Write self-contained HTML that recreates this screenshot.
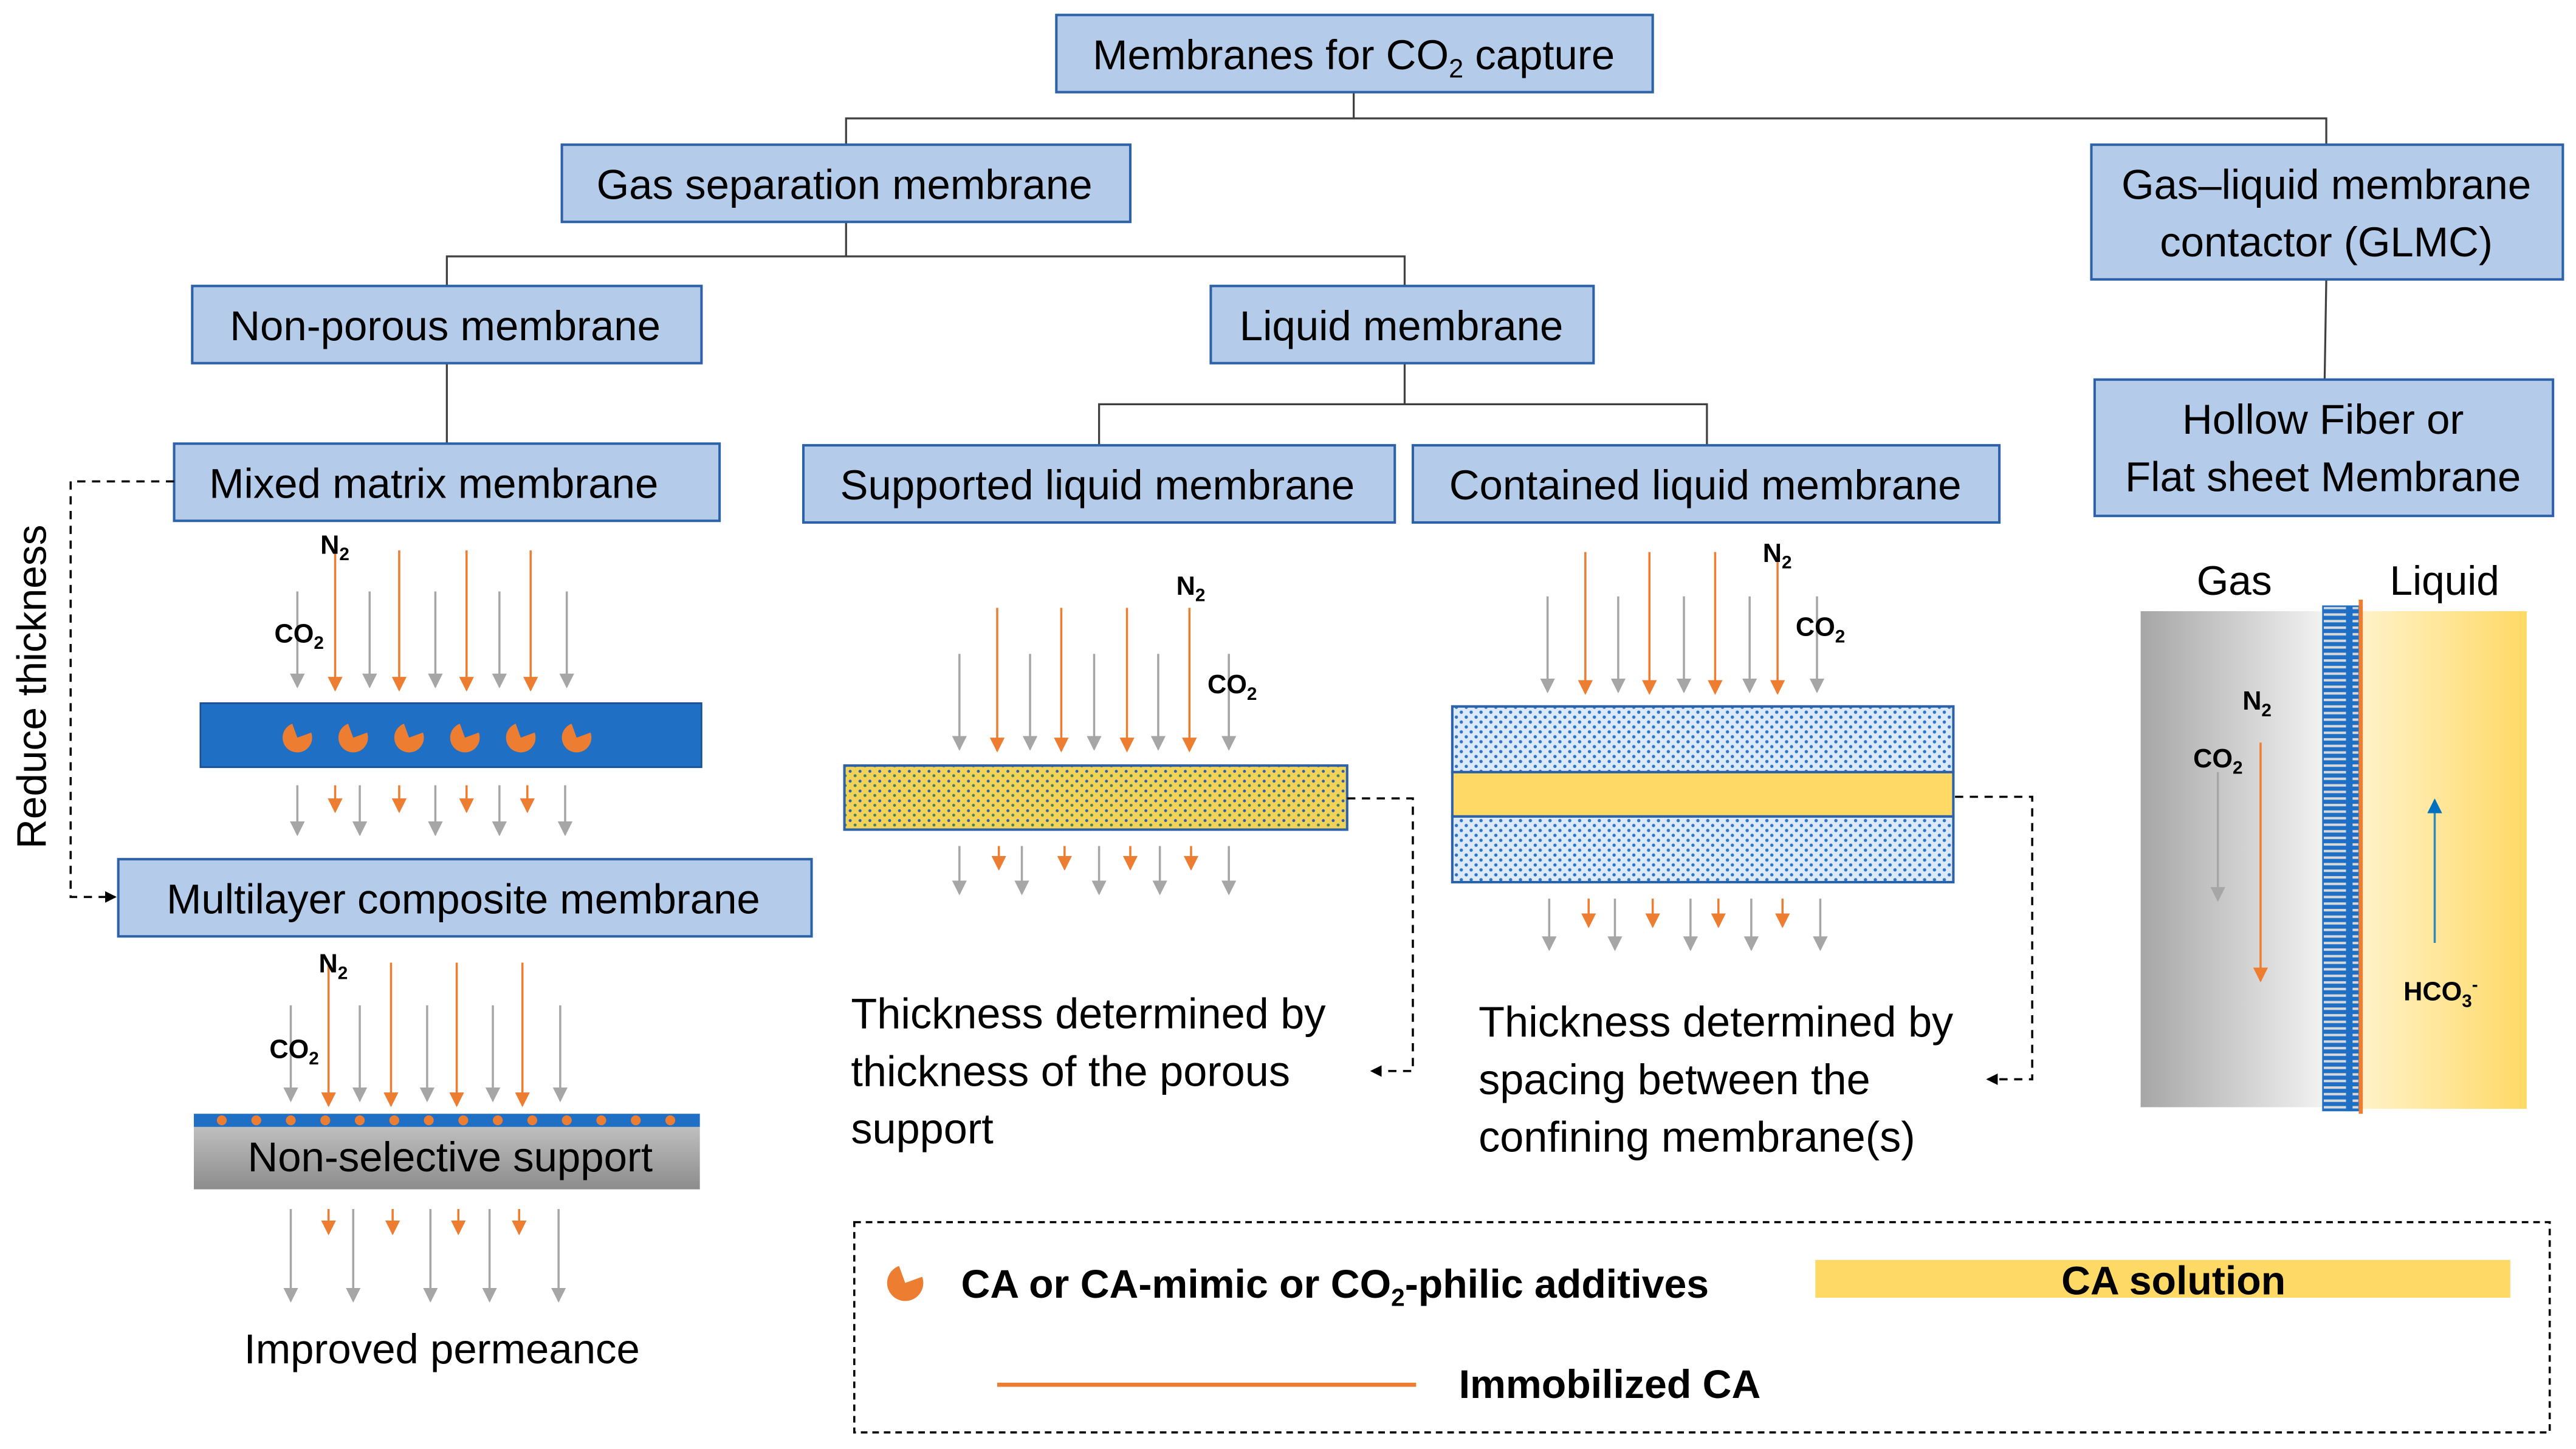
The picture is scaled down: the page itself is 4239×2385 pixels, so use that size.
<!DOCTYPE html>
<html><head><meta charset="utf-8"><style>html,body{margin:0;padding:0;background:#fff}svg{display:block}
.g{stroke:#a6a6a6;stroke-width:1.3;fill:none;marker-end:url(#ag2)}
.o{stroke:#ed7d31;stroke-width:1.3;fill:none;marker-end:url(#ao)}
</style></head>
<body>
<svg width="4239" height="2385" viewBox="0 0 1568 882" xmlns="http://www.w3.org/2000/svg" font-family="'Liberation Sans', sans-serif">
<defs>
<marker id="ao" markerWidth="9" markerHeight="9" refX="8" refY="4.5" orient="auto" markerUnits="userSpaceOnUse"><path d="M0,0 L9,4.5 L0,9 Z" fill="#ed7d31"/></marker>
<marker id="ag2" markerWidth="9" markerHeight="9" refX="8" refY="4.5" orient="auto" markerUnits="userSpaceOnUse"><path d="M0,0 L9,4.5 L0,9 Z" fill="#a6a6a6"/></marker>
<marker id="ab" markerWidth="9" markerHeight="9" refX="8" refY="4.5" orient="auto" markerUnits="userSpaceOnUse"><path d="M0,0 L9,4.5 L0,9 Z" fill="#0070c0"/></marker>
<marker id="ak" markerWidth="7" markerHeight="7" refX="6" refY="3.5" orient="auto" markerUnits="userSpaceOnUse"><path d="M0,0 L7,3.5 L0,7 Z" fill="#000"/></marker>
<pattern id="py" width="6" height="6" patternUnits="userSpaceOnUse"><rect width="6" height="6" fill="#f2d35a"/><circle cx="1.5" cy="1.5" r="0.9" fill="#2e5fa8"/><circle cx="4.5" cy="4.2" r="0.9" fill="#4a7f5a"/></pattern>
<pattern id="pb" width="6" height="6" patternUnits="userSpaceOnUse"><rect width="6" height="6" fill="#dce9f8"/><circle cx="1.5" cy="1.5" r="1" fill="#2e75c8"/><circle cx="4.5" cy="4.5" r="1" fill="#2e75c8"/></pattern>
<pattern id="ps" width="22" height="4" patternUnits="userSpaceOnUse"><rect width="22" height="4" fill="#1f6fc5"/><rect x="2" y="1.3" width="18" height="1.5" fill="#d9d9d9"/></pattern>
<linearGradient id="gg" x1="0" x2="1"><stop offset="0" stop-color="#a6a6a6"/><stop offset="1" stop-color="#f2f2f2"/></linearGradient>
<linearGradient id="gy" x1="0" x2="1"><stop offset="0" stop-color="#fff2c8"/><stop offset="1" stop-color="#ffd966"/></linearGradient>
<linearGradient id="gs" x1="0" y1="0" x2="0" y2="1"><stop offset="0" stop-color="#bfbfbf"/><stop offset="1" stop-color="#8c8c8c"/></linearGradient>
</defs>

<!-- connectors -->
<g stroke="#404040" stroke-width="1.2" fill="none">
<path d="M824,56 V72 M515,88 V72 H1416 V88"/>
<path d="M515,135 V156 M272,174 V156 H855 V174"/>
<path d="M272,221 V270"/>
<path d="M855,221 V246 M669,271 V246 H1039 V271"/>
<path d="M1416,170 L1415,231"/>
</g>

<!-- boxes -->
<g fill="#b4cbea" stroke="#2e62a8" stroke-width="1.5">
<rect x="643" y="9" width="363" height="47"/>
<rect x="342" y="88" width="346" height="47"/>
<rect x="1273" y="88" width="287" height="82"/>
<rect x="117" y="174" width="310" height="47"/>
<rect x="737" y="174" width="233" height="47"/>
<rect x="106" y="270" width="332" height="47"/>
<rect x="489" y="271" width="360" height="47"/>
<rect x="860" y="271" width="357" height="47"/>
<rect x="1275" y="231" width="279" height="83"/>
<rect x="72" y="523" width="422" height="47"/>
</g>
<g font-size="25.5" fill="#000" text-anchor="middle">
<text x="824" y="42">Membranes for CO<tspan font-size="16" dy="5">2</tspan><tspan dy="-5"> capture</tspan></text>
<text x="514" y="121">Gas separation membrane</text>
<text x="1416" y="121">Gas–liquid membrane</text>
<text x="1416" y="156">contactor (GLMC)</text>
<text x="271" y="207">Non-porous membrane</text>
<text x="853" y="207">Liquid membrane</text>
<text x="264" y="303">Mixed matrix membrane</text>
<text x="668" y="304">Supported liquid membrane</text>
<text x="1038" y="304">Contained liquid membrane</text>
<text x="1414" y="264">Hollow Fiber or</text>
<text x="1414" y="299">Flat sheet Membrane</text>
<text x="282" y="556">Multilayer composite membrane</text>
</g>

<!-- reduce thickness -->
<path d="M106,293 H43 V546 H70" fill="none" stroke="#000" stroke-width="1.3" stroke-dasharray="5,4" marker-end="url(#ak)"/>
<text x="0" y="0" font-size="25" text-anchor="middle" transform="translate(28,418) rotate(-90)">Reduce thickness</text>

<!-- MMM -->
<line class="g" x1="181" y1="360" x2="181" y2="418"/><line class="g" x1="225" y1="360" x2="225" y2="418"/><line class="g" x1="265" y1="360" x2="265" y2="418"/><line class="g" x1="304" y1="360" x2="304" y2="418"/><line class="g" x1="345" y1="360" x2="345" y2="418"/>
<line class="g" x1="181" y1="478" x2="181" y2="508"/><line class="g" x1="219" y1="478" x2="219" y2="508"/><line class="g" x1="265" y1="478" x2="265" y2="508"/><line class="g" x1="304" y1="478" x2="304" y2="508"/><line class="g" x1="344" y1="478" x2="344" y2="508"/>
<line class="o" x1="204" y1="335" x2="204" y2="420"/><line class="o" x1="243" y1="335" x2="243" y2="420"/><line class="o" x1="284" y1="335" x2="284" y2="420"/><line class="o" x1="323" y1="335" x2="323" y2="420"/>
<line class="o" x1="204" y1="478" x2="204" y2="494"/><line class="o" x1="243" y1="478" x2="243" y2="494"/><line class="o" x1="284" y1="478" x2="284" y2="494"/><line class="o" x1="321" y1="478" x2="321" y2="494"/>
<rect x="122" y="428" width="305" height="39" fill="#1f6fc5" stroke="#1a4f8f" stroke-width="1"/>
<g fill="#ed7d31">
<path d="M181,449 L181,440 A9,9 0 1 0 190,449 Z" transform="rotate(-20 181 449)"/>
<path d="M215,449 L215,440 A9,9 0 1 0 224,449 Z" transform="rotate(-20 215 449)"/>
<path d="M249,449 L249,440 A9,9 0 1 0 258,449 Z" transform="rotate(-20 249 449)"/>
<path d="M283,449 L283,440 A9,9 0 1 0 292,449 Z" transform="rotate(-20 283 449)"/>
<path d="M317,449 L317,440 A9,9 0 1 0 326,449 Z" transform="rotate(-20 317 449)"/>
<path d="M351,449 L351,440 A9,9 0 1 0 360,449 Z" transform="rotate(-20 351 449)"/>
</g>
<g font-size="16" font-weight="bold">
<text x="195" y="337">N<tspan font-size="11" dy="4">2</tspan></text>
<text x="167" y="391">CO<tspan font-size="11" dy="4">2</tspan></text>
</g>

<!-- Multilayer -->
<line class="g" x1="177" y1="612" x2="177" y2="670"/><line class="g" x1="219" y1="612" x2="219" y2="670"/><line class="g" x1="260" y1="612" x2="260" y2="670"/><line class="g" x1="300" y1="612" x2="300" y2="670"/><line class="g" x1="341" y1="612" x2="341" y2="670"/>
<line class="g" x1="177" y1="736" x2="177" y2="792"/><line class="g" x1="215" y1="736" x2="215" y2="792"/><line class="g" x1="262" y1="736" x2="262" y2="792"/><line class="g" x1="298" y1="736" x2="298" y2="792"/><line class="g" x1="340" y1="736" x2="340" y2="792"/>
<line class="o" x1="200" y1="586" x2="200" y2="673"/><line class="o" x1="238" y1="586" x2="238" y2="673"/><line class="o" x1="278" y1="586" x2="278" y2="673"/><line class="o" x1="318" y1="586" x2="318" y2="673"/>
<line class="o" x1="200" y1="736" x2="200" y2="751"/><line class="o" x1="239" y1="736" x2="239" y2="751"/><line class="o" x1="279" y1="736" x2="279" y2="751"/><line class="o" x1="316" y1="736" x2="316" y2="751"/>
<rect x="118" y="686" width="308" height="38" fill="url(#gs)"/>
<rect x="118" y="678" width="308" height="8" fill="#1f6fc5"/>
<g fill="#ed7d31"><circle cx="135" cy="682" r="3"/><circle cx="156" cy="682" r="3"/><circle cx="177" cy="682" r="3"/><circle cx="198" cy="682" r="3"/><circle cx="219" cy="682" r="3"/><circle cx="240" cy="682" r="3"/><circle cx="261" cy="682" r="3"/><circle cx="282" cy="682" r="3"/><circle cx="303" cy="682" r="3"/><circle cx="324" cy="682" r="3"/><circle cx="345" cy="682" r="3"/><circle cx="366" cy="682" r="3"/><circle cx="387" cy="682" r="3"/><circle cx="408" cy="682" r="3"/></g>
<text x="274" y="713" font-size="25.5" text-anchor="middle">Non-selective support</text>
<g font-size="16" font-weight="bold">
<text x="194" y="592">N<tspan font-size="11" dy="4">2</tspan></text>
<text x="164" y="644">CO<tspan font-size="11" dy="4">2</tspan></text>
</g>
<text x="269" y="830" font-size="25.5" text-anchor="middle">Improved permeance</text>

<!-- Supported -->
<line class="g" x1="584" y1="398" x2="584" y2="456"/><line class="g" x1="627" y1="398" x2="627" y2="456"/><line class="g" x1="666" y1="398" x2="666" y2="456"/><line class="g" x1="705" y1="398" x2="705" y2="456"/><line class="g" x1="748" y1="398" x2="748" y2="456"/>
<line class="g" x1="584" y1="515" x2="584" y2="544"/><line class="g" x1="622" y1="515" x2="622" y2="544"/><line class="g" x1="669" y1="515" x2="669" y2="544"/><line class="g" x1="706" y1="515" x2="706" y2="544"/><line class="g" x1="748" y1="515" x2="748" y2="544"/>
<line class="o" x1="607" y1="370" x2="607" y2="457"/><line class="o" x1="646" y1="370" x2="646" y2="457"/><line class="o" x1="686" y1="370" x2="686" y2="457"/><line class="o" x1="724" y1="370" x2="724" y2="457"/>
<line class="o" x1="608" y1="515" x2="608" y2="529"/><line class="o" x1="648" y1="515" x2="648" y2="529"/><line class="o" x1="688" y1="515" x2="688" y2="529"/><line class="o" x1="725" y1="515" x2="725" y2="529"/>
<rect x="514" y="466" width="306" height="39" fill="url(#py)" stroke="#2e62a8" stroke-width="1.5"/>
<g font-size="16" font-weight="bold">
<text x="716" y="362">N<tspan font-size="11" dy="4">2</tspan></text>
<text x="735" y="422">CO<tspan font-size="11" dy="4">2</tspan></text>
</g>
<path d="M820,486 H860 V652 H835" fill="none" stroke="#000" stroke-width="1.3" stroke-dasharray="5,4" marker-end="url(#ak)"/>
<g font-size="26"><text x="518" y="626">Thickness determined by</text><text x="518" y="661">thickness of the porous</text><text x="518" y="696">support</text></g>

<!-- Contained -->
<line class="g" x1="942" y1="363" x2="942" y2="421"/><line class="g" x1="985" y1="363" x2="985" y2="421"/><line class="g" x1="1025" y1="363" x2="1025" y2="421"/><line class="g" x1="1065" y1="363" x2="1065" y2="421"/><line class="g" x1="1106" y1="363" x2="1106" y2="421"/>
<line class="g" x1="943" y1="547" x2="943" y2="578"/><line class="g" x1="983" y1="547" x2="983" y2="578"/><line class="g" x1="1029" y1="547" x2="1029" y2="578"/><line class="g" x1="1066" y1="547" x2="1066" y2="578"/><line class="g" x1="1108" y1="547" x2="1108" y2="578"/>
<line class="o" x1="965" y1="336" x2="965" y2="422"/><line class="o" x1="1004" y1="336" x2="1004" y2="422"/><line class="o" x1="1044" y1="336" x2="1044" y2="422"/><line class="o" x1="1082" y1="336" x2="1082" y2="422"/>
<line class="o" x1="967" y1="547" x2="967" y2="564"/><line class="o" x1="1006" y1="547" x2="1006" y2="564"/><line class="o" x1="1046" y1="547" x2="1046" y2="564"/><line class="o" x1="1085" y1="547" x2="1085" y2="564"/>
<rect x="884" y="430" width="305" height="40" fill="url(#pb)" stroke="#2e62a8" stroke-width="1.5"/>
<rect x="884" y="470" width="305" height="27" fill="#ffd966" stroke="#2e62a8" stroke-width="1.5"/>
<rect x="884" y="497" width="305" height="40" fill="url(#pb)" stroke="#2e62a8" stroke-width="1.5"/>
<g font-size="16" font-weight="bold">
<text x="1073" y="342">N<tspan font-size="11" dy="4">2</tspan></text>
<text x="1093" y="387">CO<tspan font-size="11" dy="4">2</tspan></text>
</g>
<path d="M1190,485 H1237 V657 H1210" fill="none" stroke="#000" stroke-width="1.3" stroke-dasharray="5,4" marker-end="url(#ak)"/>
<g font-size="26"><text x="900" y="631">Thickness determined by</text><text x="900" y="666">spacing between the</text><text x="900" y="701">confining membrane(s)</text></g>

<!-- GLMC diagram -->
<rect x="1303" y="372" width="111" height="302" fill="url(#gg)"/>
<rect x="1438" y="372" width="100" height="303" fill="url(#gy)"/>
<rect x="1414" y="369" width="22" height="307" fill="url(#ps)" stroke="#1f6fc5" stroke-width="1"/>
<line x1="1437" y1="365" x2="1437" y2="678" stroke="#ed7d31" stroke-width="2.5"/>
<text x="1360" y="362" font-size="25" text-anchor="middle">Gas</text>
<text x="1488" y="362" font-size="25" text-anchor="middle">Liquid</text>
<g font-size="16" font-weight="bold">
<text x="1365" y="432">N<tspan font-size="11" dy="4">2</tspan></text>
<text x="1335" y="467">CO<tspan font-size="11" dy="4">2</tspan></text>
<text x="1463" y="609">HCO<tspan font-size="11" dy="4">3</tspan><tspan font-size="11" dy="-10">-</tspan></text>
</g>
<line class="g" x1="1350" y1="470" x2="1350" y2="548"/>
<line class="o" x1="1376" y1="452" x2="1376" y2="597"/>
<line x1="1482" y1="574" x2="1482" y2="487" stroke="#2e8bb8" stroke-width="1.3" marker-end="url(#ab)"/>

<!-- legend -->
<rect x="520" y="744" width="1032" height="128" fill="none" stroke="#000" stroke-width="1.3" stroke-dasharray="4,3"/>
<path d="M551,781 L551,770 A11,11 0 1 0 562,781 Z" transform="rotate(-20 551 781)" fill="#ed7d31"/>
<text x="585" y="790" font-size="24.5" font-weight="bold">CA or CA-mimic or CO<tspan font-size="15" dy="5">2</tspan><tspan dy="-5">-philic additives</tspan></text>
<rect x="1105" y="767" width="423" height="23" fill="#ffd966"/>
<text x="1323" y="788" font-size="24.5" font-weight="bold" text-anchor="middle">CA solution</text>
<line x1="607" y1="843" x2="862" y2="843" stroke="#ed7d31" stroke-width="2.5"/>
<text x="888" y="851" font-size="24.5" font-weight="bold">Immobilized CA</text>
</svg>
</body></html>
